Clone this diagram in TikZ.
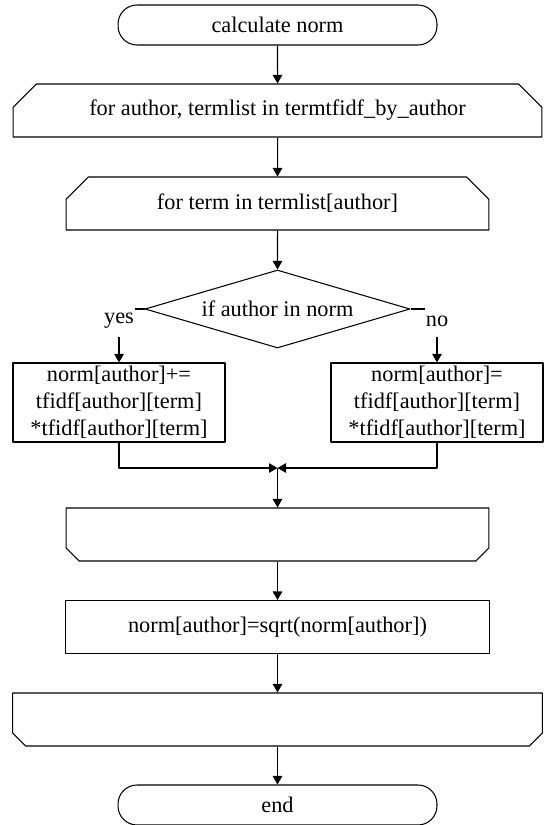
\documentclass[tikz,border=0pt]{standalone}
\usepackage{fontspec}
\setmainfont{Liberation Serif}
\usetikzlibrary{shapes.geometric, shapes.misc, arrows.meta}

\begin{document}
\begin{tikzpicture}[x=0.02cm, y=-0.02cm, line join=round, line width=0.6pt,
    font=\fontsize{12.7}{15.3}\selectfont,
    every node/.style={inner sep=0pt},
    term/.style={draw, rounded corners=0.38cm, minimum width=6.38cm, minimum height=0.8cm},
    loopstart/.style={draw, chamfered rectangle, chamfered rectangle corners={north west, north east},
        chamfered rectangle xsep=0.26cm, chamfered rectangle ysep=0.26cm, minimum height=1.06cm},
    loopend/.style={draw, chamfered rectangle, chamfered rectangle corners={south east, south west},
        chamfered rectangle xsep=0.26cm, chamfered rectangle ysep=0.26cm, minimum height=1.06cm},
    proc/.style={draw, rectangle, align=center},
    cond/.style={draw, diamond, aspect=3.4, minimum width=5.3cm, minimum height=1.56cm},
    branch/.style={fill=white, minimum height=0.64cm},
    flow/.style={-{Triangle[length=0.17cm, width=0.19cm]}}]

    \useasboundingbox (0,0) rectangle (546,825);

    % ==========================================
    % BOXES (positions in pixels of the original, y going down)
    % ==========================================

    \node[term] (start) at (277.5,25) {calculate norm};

    % outer loop over authors
    \node[loopstart, minimum width=10.58cm] (outer) at (277.5,110.5) {for author, termlist in termtfidf\_by\_author};

    % inner loop over terms
    \node[loopstart, minimum width=8.46cm] (inner) at (277.5,203.5) {for term in termlist[author]};

    \node[cond] (check) at (277.5,309) {if author in norm};

    \node[proc, minimum width=4.24cm, minimum height=1.58cm] (addsq) at (119,402.5)
        {norm[author]+=\\tfidf[author][term]\\{*}tfidf[author][term]};
    \node[proc, minimum width=4.24cm, minimum height=1.58cm] (setsq) at (437,402.5)
        {norm[author]=\\tfidf[author][term]\\{*}tfidf[author][term]};

    \coordinate (merge) at (277.5,468);

    % loop ends carry no text
    \node[loopend, minimum width=8.46cm] (innerend) at (277.5,534.5) {\strut};

    \node[proc, minimum width=8.48cm, minimum height=1.06cm] (root) at (277.5,627) {norm[author]=sqrt(norm[author])};

    \node[loopend, minimum width=10.6cm] (outerend) at (277.5,719.5) {\strut};

    \node[term] (stop) at (277.5,805) {end};

    % ==========================================
    % ARROWS
    % ==========================================

    \draw[flow] (start) -- (outer);
    \draw[flow] (outer) -- (inner);
    \draw[flow] (inner) -- (check);
    \draw[flow] (check.west) -| (addsq.north);
    \draw[flow] (check.east) -| (setsq.north);
    \draw[flow] (addsq.south) |- (merge);
    \draw[flow] (setsq.south) |- (merge);
    \draw[flow] (merge) -- (innerend);
    \draw[flow] (innerend) -- (root);
    \draw[flow] (root) -- (outerend);
    \draw[flow] (outerend) -- (stop);

    % branch labels sit over the corners
    \node[branch, minimum width=0.64cm] (yes) at (119,321) {yes};
    \node[branch, minimum width=0.48cm] (no) at (437,321) {no};

\end{tikzpicture}
\end{document}
